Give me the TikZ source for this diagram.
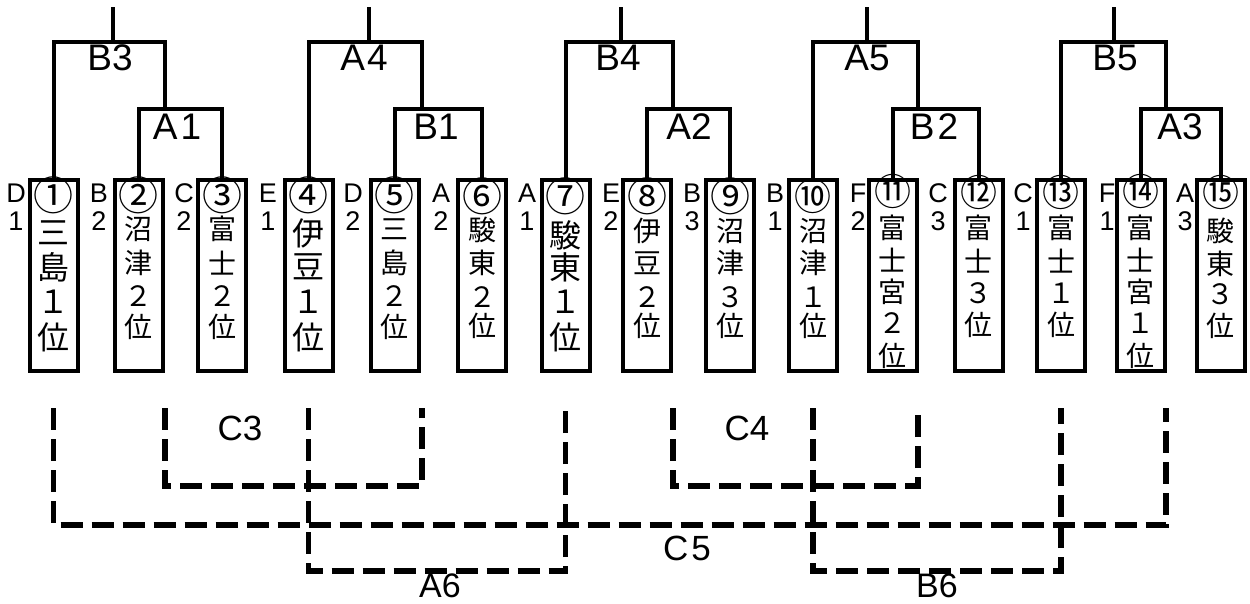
\documentclass[tikz,border=0pt]{standalone}
\usepackage{fontspec}
\setmainfont{Liberation Sans}
\newfontfamily\jp{Noto Sans CJK JP}
\usetikzlibrary{calc}
\newcommand\sidelab[4]{%
  \node[side] (#1L) at (#2,193) {#3};
  \node[side] (#1D) at (#2,221) {#4};}
\newcommand\tc[3]{\foreach \yy/\cc [count=\ii] in {#3}
    \node[inner sep=0pt, font=\jp\fontsize{#2}{#2}\selectfont] (#1c\ii) at ($(#1.north)+(0,\yy-178)$) {\cc};}
\begin{document}
\begin{tikzpicture}[x=1pt,y=-1pt,
  bl/.style={line width=4pt, line join=miter},
  dl/.style={line width=5.2pt, dash pattern=on 22pt off 9pt},
  team/.style={draw, line width=4pt, minimum width=48pt, minimum height=191pt, inner sep=0pt},
  lab/.style={font=\fontsize{37}{37}\selectfont, inner sep=0pt},
  side/.style={font=\fontsize{27}{27}\selectfont, inner sep=0pt}]
\useasboundingbox (0,0) rectangle (1250,604);
% team boxes
\node[team] (t1) at (53.5,275.5) {};
\node[team] (t2) at (138.5,275.5) {};
\node[team] (t3) at (222,275.5) {};
\node[team] (t4) at (308.5,275.5) {};
\node[team] (t5) at (394.5,275.5) {};
\node[team] (t6) at (482,275.5) {};
\node[team] (t7) at (565.5,275.5) {};
\node[team] (t8) at (647,275.5) {};
\node[team] (t9) at (730,275.5) {};
\node[team] (t10) at (813,275.5) {};
\node[team] (t11) at (892.5,275.5) {};
\node[team] (t12) at (978.5,275.5) {};
\node[team] (t13) at (1061,275.5) {};
\node[team] (t14) at (1140.5,275.5) {};
\node[team] (t15) at (1220.5,275.5) {};
% circled numbers
\foreach \b/\n/\y in {t1/①/195,t2/②/195,t3/③/195,t4/④/195,t5/⑤/195,t6/⑥/196,t7/⑦/196,t8/⑧/196,t9/⑨/196}
  \node[inner sep=0pt, font=\jp\fontsize{40}{40}\selectfont] (\b n) at ($(\b.north)+(0,\y-178)$) {\n};
\foreach \b/\n/\y in {t10/⑩/196,t11/⑪/191,t12/⑫/192,t13/⑬/192,t14/⑭/191,t15/⑮/192}
  \node[inner sep=0pt, font=\jp\fontsize{37}{37}\selectfont] (\b n) at ($(\b.north)+(0,\y-178)$) {\n};
% texts in boxes
\tc{t1}{32}{233/三,267/島,302/１,337/位}
\tc{t2}{28}{229/沼,263/津,296/２,327/位}
\tc{t3}{28}{229/富,263/士,296/２,327/位}
\tc{t4}{32}{233/伊,267/豆,302/１,337/位}
\tc{t5}{28}{229/三,263/島,296/２,327/位}
\tc{t6}{28}{230/駿,263/東,297/２,326/位}
\tc{t7}{32}{235/駿,267/東,302/１,337/位}
\tc{t8}{28}{231/伊,263/豆,297/２,326/位}
\tc{t9}{28}{231/沼,263/津,297/３,326/位}
\tc{t10}{28}{231/沼,263/津,297/１,326/位}
\tc{t11}{28}{228/富,260/士,292/宮,323/２,356/位}
\tc{t12}{28}{228/富,261/士,293/３,325/位}
\tc{t13}{28}{228/富,261/士,293/１,325/位}
\tc{t14}{28}{228/富,260/士,292/宮,323/１,356/位}
\tc{t15}{28}{231/駿,264/東,294/３,326/位}
% side labels
\sidelab{s1}{16}{D}{1}
\sidelab{s2}{99}{B}{2}
\sidelab{s3}{184}{C}{2}
\sidelab{s4}{268}{E}{1}
\sidelab{s5}{353}{D}{2}
\sidelab{s6}{441}{A}{2}
\sidelab{s7}{527}{A}{1}
\sidelab{s8}{611}{E}{2}
\sidelab{s9}{692}{B}{3}
\sidelab{s10}{775}{B}{1}
\sidelab{s11}{858}{F}{2}
\sidelab{s12}{938}{C}{3}
\sidelab{s13}{1023}{C}{1}
\sidelab{s14}{1107}{F}{1}
\sidelab{s15}{1185}{A}{3}
% level coordinates
\coordinate (ytop) at (0,7);
\coordinate (yB) at (0,42);
\coordinate (yA) at (0,109);
\coordinate (yD) at (0,408);
\coordinate (yC) at (0,486);
\coordinate (yF) at (0,525);
\coordinate (yS) at (0,571);
% right legs of upper brackets and stubs
\coordinate (g1) at (165,109);
\coordinate (g2) at (422,109);
\coordinate (g3) at (673,109);
\coordinate (g4) at (918,109);
\coordinate (g5) at (1166,109);
\coordinate (h1) at (113,42);
\coordinate (h2) at (369,42);
\coordinate (h3) at (621,42);
\coordinate (h4) at (867,42);
\coordinate (h5) at (1114,42);
% lower brackets
\draw[bl] (t2.north) -- (t2.north |- yA) -- (t3.north |- yA) -- (t3.north);
\draw[bl] (t5.north) -- (t5.north |- yA) -- (t6.north |- yA) -- (t6.north);
\draw[bl] (t8.north) -- (t8.north |- yA) -- (t9.north |- yA) -- (t9.north);
\draw[bl] (t11.north) -- (t11.north |- yA) -- (t12.north |- yA) -- (t12.north);
\draw[bl] (t14.north) -- (t14.north |- yA) -- (t15.north |- yA) -- (t15.north);
% upper brackets
\draw[bl] (t1.north) -- (t1.north |- yB) -- (g1 |- yB) -- (g1);
\draw[bl] (t4.north) -- (t4.north |- yB) -- (g2 |- yB) -- (g2);
\draw[bl] (t7.north) -- (t7.north |- yB) -- (g3 |- yB) -- (g3);
\draw[bl] (t10.north) -- (t10.north |- yB) -- (g4 |- yB) -- (g4);
\draw[bl] (t13.north) -- (t13.north |- yB) -- (g5 |- yB) -- (g5);
\foreach \h in {h1,h2,h3,h4,h5} \draw[bl] (\h) -- (\h |- ytop);
% match labels
\node[lab] (lB3) at (110,58) {B3};
\node[lab] (lA4) at (364,58) {A\kern2pt4};
\node[lab] (lB4) at (618,58) {B4};
\node[lab] (lA5) at (867,58) {A5};
\node[lab] (lB5) at (1115,58) {B5};
\node[lab] (lA1) at (177,127) {A\kern3pt1};
\node[lab] (lB1) at (436,127) {B1};
\node[lab] (lA2) at (689,127) {A2};
\node[lab] (lB2) at (934,127) {B\kern3pt2};
\node[lab] (lA3) at (1180,127) {A3};
% dashed brackets
\draw[dl] (g1 |- yD) -- (g1 |- yC) -- (g2 |- yC) -- (g2 |- yD);
\draw[dl] (g3 |- yD) -- (g3 |- yC) -- (g4 |- yC) -- (g4 |- yD);
\draw[dl] (t1.north |- yD) -- (t1.north |- yF) -- (g5 |- yF) -- (g5 |- yD);
\draw[dl] (t4.north |- yD) -- (t4.north |- yS) -- (t7.north |- yS) -- (t7.north |- yD);
\draw[dl] (t10.north |- yD) -- (t10.north |- yS) -- (t13.north |- yS) -- (t13.north |- yD);
\node[lab, font=\fontsize{35}{35}\selectfont] (lC3) at (240,428) {C3};
\node[lab, font=\fontsize{35}{35}\selectfont] (lC4) at (747,428) {C4};
\node[lab, font=\fontsize{35}{35}\selectfont] (lC5) at (687,548) {C\kern3pt5};
\node[lab, font=\fontsize{34}{34}\selectfont] (lA6) at (440,586) {A6};
\node[lab, font=\fontsize{34}{34}\selectfont] (lB6) at (937,586) {B6};
\end{tikzpicture}
\end{document}
